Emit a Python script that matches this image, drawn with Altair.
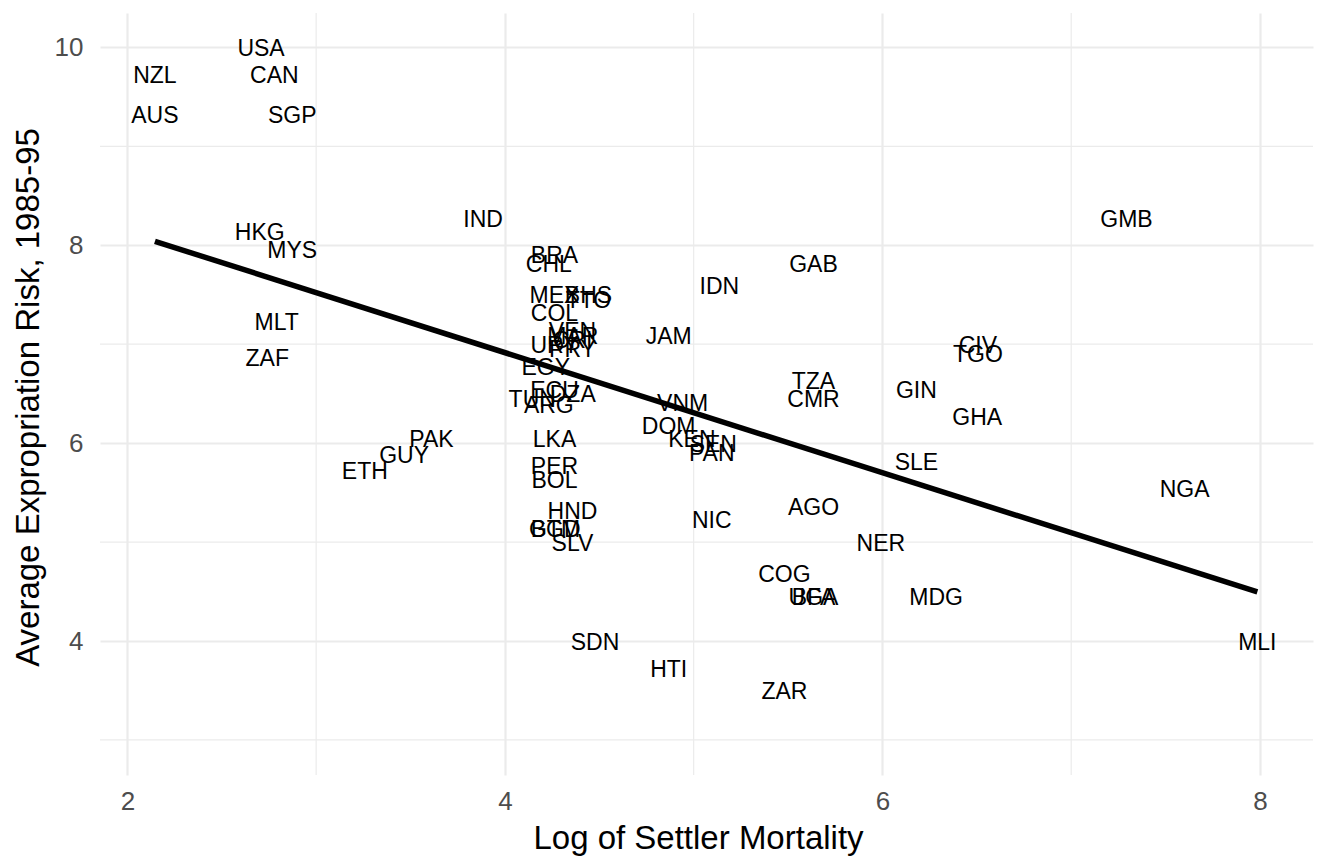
import altair as alt
import pandas as pd

countries = ["AGO","ARG","AUS","BFA","BGD","BHS","BOL","BRA","CAN","CHL","CIV","CMR","COG","COL",
             "CRI","DOM","DZA","ECU","EGY","ETH","GAB","GHA","GIN","GMB","GTM","GUY","HKG","HND",
             "HTI","IDN","IND","JAM","KEN","LKA","MAR","MDG","MEX","MLI","MLT","MYS","NER","NGA",
             "NIC","NZL","PAK","PAN","PER","PRY","SDN","SEN","SGP","SLE","SLV","TGO","TTO","TUN",
             "TZA","UGA","URY","USA","VEN","VNM","ZAF","ZAR"]
logem4 = [5.634790, 4.232656, 2.145931, 5.634790, 4.268438, 4.442651, 4.262680, 4.262680, 2.778819,
          4.232656, 6.505783, 5.634790, 5.480639, 4.262680, 4.357990, 4.867534, 4.359270, 4.262680,
          4.216562, 3.258097, 5.634790, 6.502290, 6.180017, 7.293018, 4.262680, 3.465736, 2.701361,
          4.357990, 4.867534, 5.135798, 3.884241, 4.867534, 4.990433, 4.262680, 4.359270, 6.284134,
          4.262680, 7.986165, 2.791165, 2.873565, 5.991465, 7.600903, 5.095596, 2.145931, 3.610918,
          5.095596, 4.262680, 4.357990, 4.477337, 5.103883, 2.873565, 6.180017, 4.357990, 6.505783,
          4.442651, 4.144721, 5.634790, 5.634790, 4.262680, 2.708050, 4.357990, 4.941642, 2.740840,
          5.480639]
avexpr = [5.363636, 6.386364, 9.318182, 4.454545, 5.136364, 7.500000, 5.636364, 7.909091, 9.727273,
          7.818182, 7.000000, 6.454545, 4.681818, 7.318182, 7.045455, 6.181818, 6.500000, 6.545455,
          6.772727, 5.727273, 7.818182, 6.272727, 6.545455, 8.272727, 5.136364, 5.886364, 8.136364,
          5.318182, 3.727273, 7.590909, 8.272727, 7.090909, 6.045455, 6.045455, 7.090909, 4.454545,
          7.500000, 4.000000, 7.227273, 7.954545, 5.000000, 5.545455, 5.227273, 9.727273, 6.045455,
          5.909091, 5.772727, 6.954545, 4.000000, 6.000000, 9.318182, 5.818182, 5.000000, 6.909091,
          7.454545, 6.454545, 6.636364, 4.454545, 7.000000, 10.000000, 7.136364, 6.409091, 6.863636,
          3.500000]

x_major = [2, 4, 6, 8]
x_minor = [3, 5, 7]
y_major = [4, 6, 8, 10]
y_minor = [3, 5, 7, 9]

df = pd.DataFrame({"shortnam": countries, "logem4": logem4, "avexpr": avexpr})
xminor_df = pd.DataFrame({"v": x_minor})
yminor_df = pd.DataFrame({"v": y_minor})

FONT = "Liberation Sans"
xscale = alt.Scale(domain=[1.855, 8.281], nice=False, zero=False)
yscale = alt.Scale(domain=[2.646, 10.347], nice=False, zero=False)

xaxis = alt.Axis(values=x_major, grid=True, gridColor="#ebebeb", gridWidth=2.2, domain=False,
                 ticks=False, labelFontSize=26, labelColor="#4d4d4d", labelFont=FONT,
                 labelPadding=13, title="Log of Settler Mortality", titleFont=FONT,
                 titleFontSize=33, titleFontWeight="normal", titleColor="black",
                 titleBaseline="alphabetic", titleY=73, titleX=598, format="d")
yaxis = alt.Axis(values=y_major, grid=True, gridColor="#ebebeb", gridWidth=2.2, domain=False,
                 ticks=False, labelFontSize=26, labelColor="#4d4d4d", labelFont=FONT,
                 labelPadding=17, title="Average Expropriation Risk, 1985-95", titleFont=FONT,
                 titleFontSize=33, titleFontWeight="normal", titleColor="black",
                 titleAngle=270, titleBaseline="alphabetic", titleAlign="center",
                 titleX=-62, titleY=384, format="d")

XT = "Log of Settler Mortality"
YT = "Average Expropriation Risk, 1985-95"

base = alt.Chart(df)
texts = base.mark_text(font=FONT, fontSize=23, color="black", align="center",
                       baseline="middle", dy=1.5).encode(
    x=alt.X("logem4:Q", scale=xscale, axis=xaxis, title=XT),
    y=alt.Y("avexpr:Q", scale=yscale, axis=yaxis, title=YT),
    text="shortnam:N")

minor_x = alt.Chart(xminor_df).mark_rule(color="#ebebeb", strokeWidth=1.2).encode(
    x=alt.X("v:Q", scale=xscale, axis=xaxis, title=XT))
minor_y = alt.Chart(yminor_df).mark_rule(color="#ebebeb", strokeWidth=1.2).encode(
    y=alt.Y("v:Q", scale=yscale, axis=yaxis, title=YT))

line = base.transform_regression("logem4", "avexpr").mark_line(
    color="black", strokeWidth=5.5).encode(
    x=alt.X("logem4:Q", scale=xscale, axis=xaxis, title=XT),
    y=alt.Y("avexpr:Q", scale=yscale, axis=yaxis, title=YT))

chart = alt.layer(minor_x, minor_y, texts, line).properties(
    width=1213, height=762,
    autosize=alt.AutoSizeParams(type="none"),
    padding={"left": 100, "top": 13, "right": 15, "bottom": 91},
    background="white",
).configure_view(stroke=None)

chart.save("out.html", embed_options={"renderer": "svg", "actions": False})
